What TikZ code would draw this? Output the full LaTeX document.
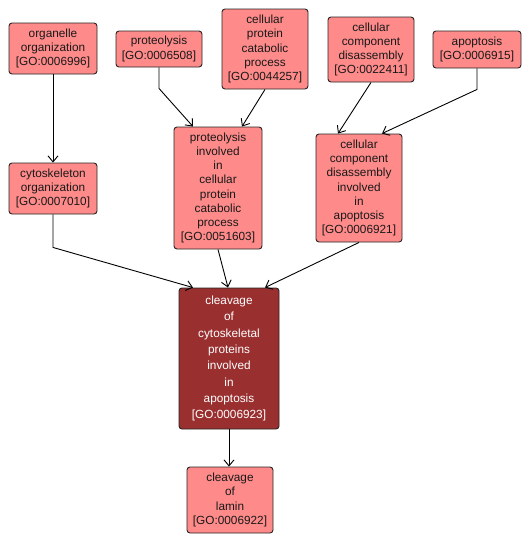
\documentclass[tikz,border=0pt]{standalone}
\usepackage{fontspec}
\setmainfont{Liberation Sans}
\usetikzlibrary{arrows.meta}
\definecolor{goplain}{HTML}{FF8A8A}
\definecolor{godark}{HTML}{992F2F}
\tikzset{
  goterm/.style={draw=black!85,line width=0.9pt,fill=goplain,rounded corners=3pt,align=center,
    inner sep=0pt,font=\fontsize{11.8}{14.2}\selectfont,text=black!90},
  gomain/.style={goterm,fill=godark,text=white,font=\fontsize{11.8}{16.3}\selectfont},
  golink/.style={-{Straight Barb[length=6pt,width=10pt]},line width=0.9pt}
}
\begin{document}
\begin{tikzpicture}[x=1pt,y=-1pt]
\useasboundingbox (0,0) rectangle (530,544);
% top row
\node[goterm,minimum width=88,minimum height=51] (orgorg) at (53,48.5) {organelle\\organization\\{[GO:0006996]}};
\node[goterm,minimum width=86,minimum height=36] (prot) at (159,49) {proteolysis\\{[GO:0006508]}};
\node[goterm,minimum width=86,minimum height=80] (cpcp) at (265,49) {cellular\\protein\\catabolic\\process\\{[GO:0044257]}};
\node[goterm,minimum width=86,minimum height=65] (ccd) at (371,49.5) {cellular\\component\\disassembly\\{[GO:0022411]}};
\node[goterm,minimum width=88,minimum height=37] (apop) at (477,49.5) {apoptosis\\{[GO:0006915]}};
% middle row
\node[goterm,minimum width=88,minimum height=51] (cytorg) at (53,188.5) {cytoskeleton\\organization\\{[GO:0007010]}};
\node[goterm,minimum width=88,minimum height=122] (protinv) at (218,188) {proteolysis\\involved\\in\\cellular\\protein\\catabolic\\process\\{[GO:0051603]}};
\node[goterm,minimum width=86,minimum height=108] (ccdapop) at (359,188) {cellular\\component\\disassembly\\involved\\in\\apoptosis\\{[GO:0006921]}};
% bottom
\node[gomain,minimum width=100,minimum height=141] (cleavcyto) at (229,358.5) {cleavage\\of\\cytoskeletal\\proteins\\involved\\in\\apoptosis\\{[GO:0006923]}};
\node[goterm,minimum width=86,minimum height=66] (cleavlam) at (230,500) {cleavage\\of\\lamin\\{[GO:0006922]}};
% links
\draw[golink] (orgorg) -- (cytorg);
\draw[golink] (prot.south) -- ++(0,21) -- ([xshift=-25pt]protinv.north);
\draw[golink] (cpcp.south) -- ([xshift=24pt]protinv.north);
\draw[golink] (ccd.south) -- ([xshift=-21pt]ccdapop.north);
\draw[golink] (apop.south) -- ++(0,21) -- ([xshift=23pt]ccdapop.north);
\draw[golink] (cytorg.south) -- ++(0,33) -- ([xshift=-36pt]cleavcyto.north);
\draw[golink] (protinv.south) -- ([xshift=-1pt]cleavcyto.north);
\draw[golink] (ccdapop.south) -- ([xshift=36pt]cleavcyto.north);
\draw[golink] (cleavcyto.south) -- (cleavlam.north -| cleavcyto.south);
\end{tikzpicture}
\end{document}
